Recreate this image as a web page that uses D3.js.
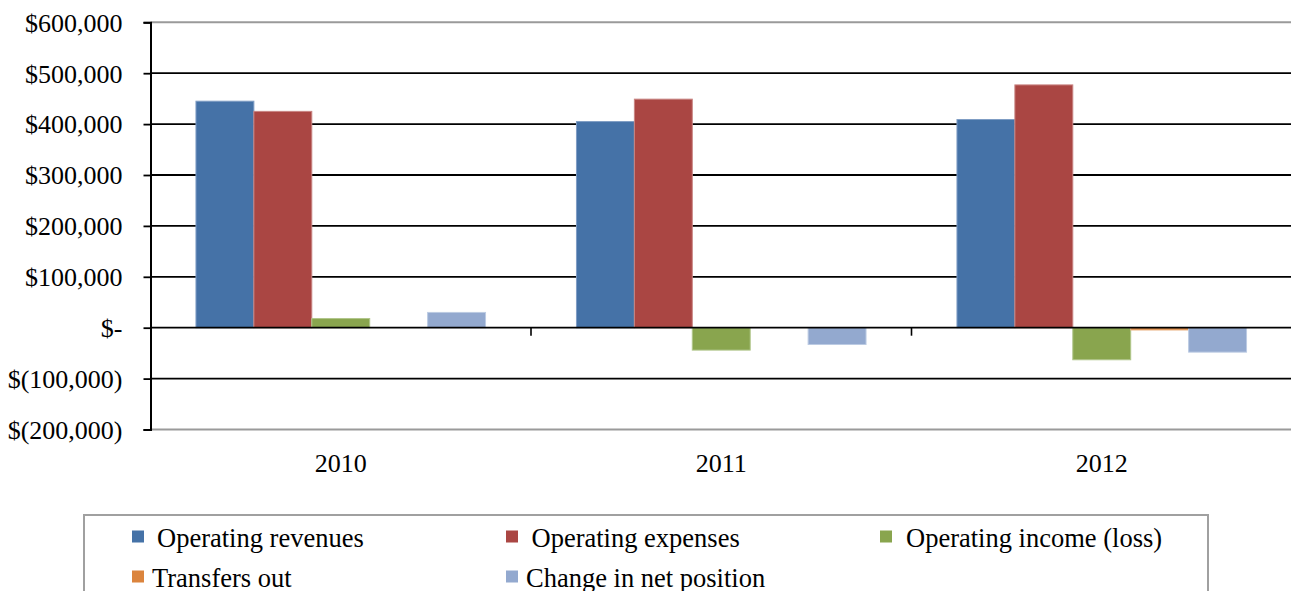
<!DOCTYPE html>
<html>
<head>
<meta charset="utf-8">
<script src="https://cdn.jsdelivr.net/npm/d3@7"></script>
<style>
  html, body { margin: 0; padding: 0; background: #fff; }
  svg { display: block; font-family: "Liberation Serif", "Times New Roman", serif; }
</style>
</head>
<body>
<svg id="chart" width="1291" height="591"></svg>
<script>
// Fiscal years shown on the category axis
const years = ["2010", "2011", "2012"];

// Series names, in legend / cluster order
const seriesNames = [
  "Operating revenues",
  "Operating expenses",
  "Operating income (loss)",
  "Transfers out",
  "Change in net position"
];

// Values per series, one per year
const operatingRevenues = [445000, 405000, 409000];
const operatingExpenses = [425000, 449000, 477000];
const operatingIncome   = [18000, -44000, -63000];
const transfersOut      = [0, 0, -4500];
const changeInNetPos    = [30000, -33000, -48000];

// Value axis ticks
const yTicks = [-200000, -100000, 0, 100000, 200000, 300000, 400000, 500000, 600000];

const seriesValues = [operatingRevenues, operatingExpenses, operatingIncome, transfersOut, changeInNetPos];
const colors = ["#4572A7", "#AA4643", "#89A54E", "#DB843D", "#93A9CF"];
const strokes = ["#7f9dc4", "#c98482", "#b0c68a", "#e9b07f", "#bccbe3"];

const svg = d3.select("#chart");

const plot = { left: 150.5, right: 1292, top: 22.3, bottom: 429.5 };

const y = d3.scaleLinear()
  .domain([-200000, 600000])
  .range([plot.bottom, plot.top]);

const x0 = d3.scaleBand()
  .domain(years)
  .range([plot.left, plot.right])
  .padding(0);

// Clustered bars: gap between clusters ~157% of a bar width
const x1 = d3.scaleBand()
  .domain(seriesNames)
  .range([0, x0.bandwidth()])
  .paddingInner(0)
  .paddingOuter(0.785);

function fmt(v) {
  if (v === 0) return "$-";
  const s = d3.format(",")(Math.abs(v));
  return v < 0 ? "$(" + s + ")" : "$" + s;
}

// Horizontal gridlines
const grid = svg.append("g");
yTicks.forEach(t => {
  if (t === 0) return;
  const edge = (t === 600000 || t === -200000);
  grid.append("line")
    .attr("x1", plot.left).attr("x2", plot.right)
    .attr("y1", y(t)).attr("y2", y(t))
    .attr("stroke", edge ? "#9a9a9a" : "#000")
    .attr("stroke-width", edge ? 2 : 1.8);
});

// Bars
const groups = svg.append("g").selectAll("g")
  .data(years)
  .join("g")
  .attr("transform", d => `translate(${x0(d)},0)`);

groups.selectAll("rect")
  .data((d, i) => seriesNames.map((s, k) => ({ s, k, v: seriesValues[k][i] })))
  .join("rect")
  .attr("x", d => x1(d.s))
  .attr("width", x1.bandwidth())
  .attr("y", d => Math.min(y(d.v), y(0)))
  .attr("height", d => Math.abs(y(d.v) - y(0)))
  .attr("fill", d => colors[d.k])
  .attr("stroke", d => strokes[d.k])
  .attr("stroke-width", 1);

// Category axis at zero
const xAxisG = svg.append("g");
xAxisG.append("line")
  .attr("x1", plot.left).attr("x2", plot.right)
  .attr("y1", y(0)).attr("y2", y(0))
  .attr("stroke", "#000").attr("stroke-width", 1.8);
years.forEach(yr => {
  const bx = x0(yr) + x0.bandwidth();
  xAxisG.append("line")
    .attr("x1", bx).attr("x2", bx)
    .attr("y1", y(0)).attr("y2", y(0) + 8)
    .attr("stroke", "#000").attr("stroke-width", 1.6);
});

// Category labels below plot
svg.append("g").selectAll("text")
  .data(years)
  .join("text")
  .attr("x", d => x0(d) + x0.bandwidth() / 2)
  .attr("y", 471.5)
  .attr("text-anchor", "middle")
  .attr("font-size", 26)
  .attr("fill", "#000")
  .text(d => d);

// Value axis
const yAxis = d3.axisLeft(y)
  .tickValues(yTicks)
  .tickSize(7)
  .tickPadding(21)
  .tickFormat(fmt);

const yAxisG = svg.append("g")
  .attr("transform", `translate(${plot.left},0)`)
  .call(yAxis);
yAxisG.select(".domain").attr("stroke", "#000").attr("stroke-width", 2);
yAxisG.selectAll(".tick line").attr("stroke", "#000").attr("stroke-width", 1.8);
yAxisG.selectAll(".tick text")
  .attr("font-family", "Liberation Serif, Times New Roman, serif")
  .attr("font-size", 26)
  .attr("fill", "#000")
  .attr("dy", "0.34em");

// Legend (the box runs past the bottom edge of the page)
const legend = svg.append("g");
legend.append("rect")
  .attr("x", 84).attr("y", 515)
  .attr("width", 1124).attr("height", 100)
  .attr("fill", "#fff")
  .attr("stroke", "#a0a0a0").attr("stroke-width", 2);

const legendPos = [
  { mx: 132, my: 530.5, tx: 157, ty: 546.7 },
  { mx: 506, my: 530.5, tx: 531.5, ty: 546.7 },
  { mx: 880, my: 530.5, tx: 906, ty: 546.7 },
  { mx: 132, my: 570.5, tx: 152, ty: 587 },
  { mx: 506, my: 570.5, tx: 526, ty: 587 }
];

seriesNames.forEach((name, k) => {
  const p = legendPos[k];
  legend.append("rect")
    .attr("x", p.mx).attr("y", p.my)
    .attr("width", 12).attr("height", 12)
    .attr("fill", colors[k]);
  legend.append("text")
    .attr("x", p.tx).attr("y", p.ty)
    .attr("font-size", 26.5)
    .attr("fill", "#000")
    .text(name);
});
</script>
</body>
</html>
